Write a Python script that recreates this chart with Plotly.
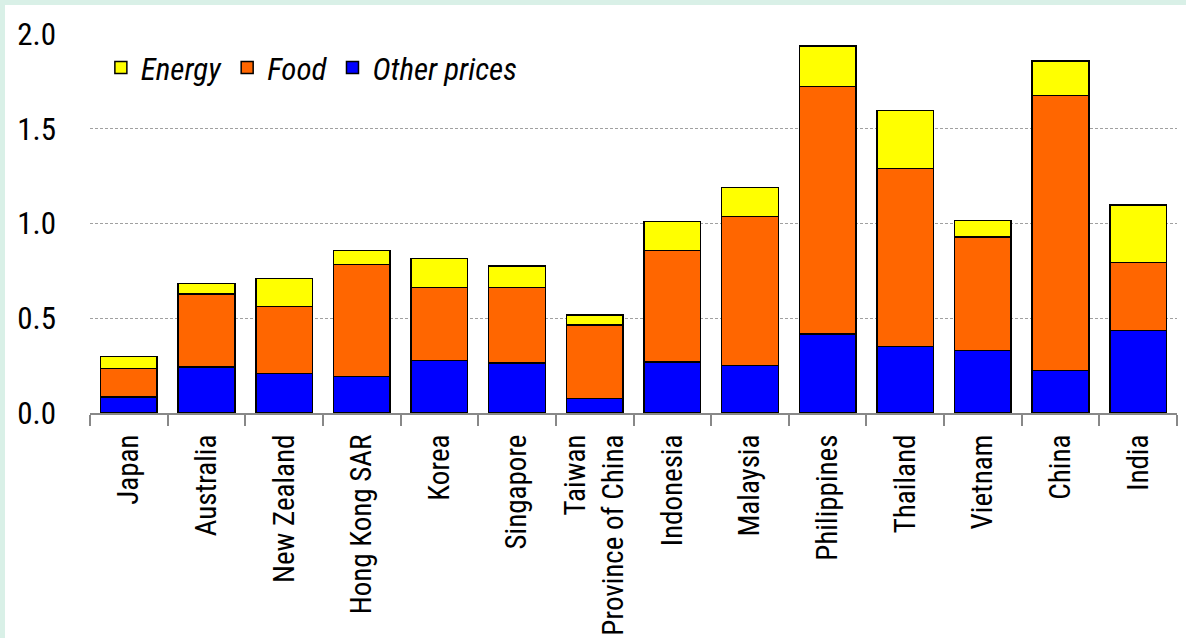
import plotly.graph_objects as go

countries = ["Japan", "Australia", "New Zealand", "Hong Kong SAR", "Korea", "Singapore",
             "Taiwan<br>Province of China", "Indonesia", "Malaysia", "Philippines",
             "Thailand", "Vietnam", "China", "India"]
other_prices = [0.084, 0.244, 0.209, 0.192, 0.276, 0.264, 0.077, 0.269, 0.250, 0.417,
                0.350, 0.329, 0.223, 0.436]
food = [0.152, 0.384, 0.354, 0.591, 0.387, 0.399, 0.387, 0.588, 0.786, 1.305,
        0.939, 0.600, 1.453, 0.359]
energy = [0.061, 0.056, 0.147, 0.075, 0.153, 0.114, 0.053, 0.153, 0.153, 0.216,
          0.308, 0.086, 0.182, 0.303]

W, H = 1186, 638
ML, MR, MT, MB = 90, 9, 34, 225
FONT = "Roboto Condensed, Liberation Sans Narrow, Arial Narrow, Roboto, sans-serif"
MINT = "#D9F0E7"

fig = go.Figure()
line = dict(color="black", width=1.5)
fig.add_trace(go.Bar(x=countries, y=other_prices, name="Other prices",
                     marker=dict(color="#0000FF", line=line)))
fig.add_trace(go.Bar(x=countries, y=food, name="Food",
                     marker=dict(color="#FF6600", line=line)))
fig.add_trace(go.Bar(x=countries, y=energy, name="Energy",
                     marker=dict(color="#FFFF00", line=line)))

pw = W - ML - MR
ph = H - MT - MB
# mint frame strips: top and left (5 px)
fig.add_shape(type="rect", xref="paper", yref="paper", layer="below",
              x0=-ML / pw, x1=(W - ML) / pw,
              y0=1 + (MT - 5) / ph, y1=1 + MT / ph,
              fillcolor=MINT, line=dict(width=0))
fig.add_shape(type="rect", xref="paper", yref="paper", layer="below",
              x0=-ML / pw, x1=(5 - ML) / pw,
              y0=-MB / ph, y1=1 + MT / ph,
              fillcolor=MINT, line=dict(width=0))

fig.update_layout(
    width=W, height=H,
    barmode="stack", bargap=0.27,
    paper_bgcolor="white", plot_bgcolor="white",
    margin=dict(l=ML, r=MR, t=MT, b=MB, pad=0, autoexpand=False),
    font=dict(family=FONT, size=28, color="black"),
    showlegend=True,
    legend=dict(orientation="h", x=0.01, y=0.982, xanchor="left", yanchor="top",
                traceorder="reversed", bgcolor="rgba(0,0,0,0)",
                font=dict(family=FONT, size=31, style="italic")),
    xaxis=dict(showline=True, linecolor="#888888", linewidth=2, automargin=False,
               ticks="outside", tickson="boundaries", ticklen=11, tickwidth=2,
               tickcolor="#888888", tickangle=-90, showgrid=False,
               ticklabelstandoff=8, tickfont=dict(size=29)),
    yaxis=dict(range=[0, 2.0], tickvals=[0, 0.5, 1.0, 1.5, 2.0], tickformat=".1f",
               automargin=False,
               showgrid=True, gridcolor="#A0A0A0", griddash="3px,2px", gridwidth=1,
               zeroline=False, showline=False, ticks="", ticklabelstandoff=33,
               tickfont=dict(size=31)),
)

fig.write_html("out.html", config={"displayModeBar": False},
               post_script="document.body.style.margin='0';document.body.style.padding='0';")
